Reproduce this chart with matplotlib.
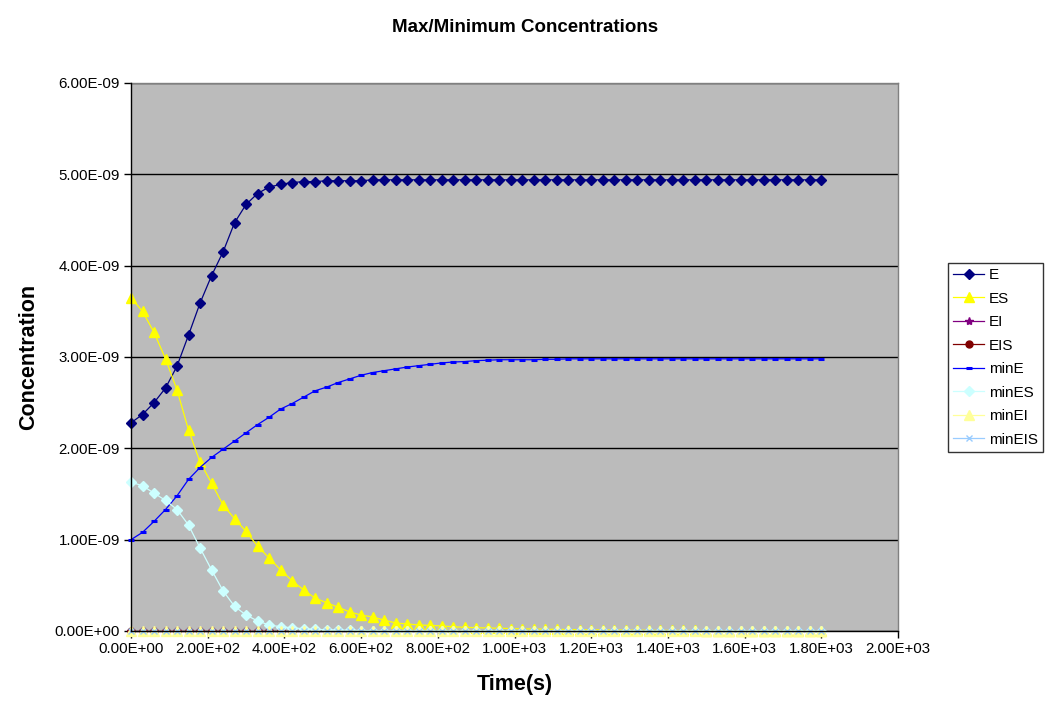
import matplotlib
matplotlib.use("Agg")
import matplotlib.pyplot as plt
from matplotlib.ticker import FuncFormatter

plt.rcParams["font.family"] = ["Liberation Sans", "DejaVu Sans"]

# time points, seconds (every 30 s up to 1800 s)
time_s = list(range(0, 1801, 30))

# axis ticks
x_ticks = [0, 200, 400, 600, 800, 1000, 1200, 1400, 1600, 1800, 2000]
y_ticks = [0, 1e-9, 2e-9, 3e-9, 4e-9, 5e-9, 6e-9]

# concentrations, in units of 1e-9
E = [2.28, 2.37, 2.50, 2.66, 2.90, 3.24, 3.59, 3.89, 4.15, 4.47,
     4.67, 4.79, 4.86, 4.89, 4.91, 4.92, 4.92, 4.93, 4.93, 4.93,
     4.93, 4.94, 4.94, 4.94, 4.94, 4.94, 4.94, 4.94, 4.94, 4.94,
     4.94, 4.94, 4.94, 4.94, 4.94, 4.94, 4.94, 4.94, 4.94, 4.94,
     4.94, 4.94, 4.94, 4.94, 4.94, 4.94, 4.94, 4.94, 4.94, 4.94,
     4.94, 4.94, 4.94, 4.94, 4.94, 4.94, 4.94, 4.94, 4.94, 4.94,
     4.94]
ES = [3.65, 3.50, 3.27, 2.98, 2.64, 2.20, 1.85, 1.62, 1.38, 1.23,
      1.09, 0.93, 0.80, 0.67, 0.55, 0.45, 0.36, 0.31, 0.26, 0.21,
      0.175, 0.153, 0.12, 0.088, 0.077, 0.066, 0.062, 0.055, 0.047, 0.040,
      0.036, 0.033, 0.030, 0.027, 0.024, 0.022, 0.020, 0.018, 0.016, 0.015,
      0.013, 0.012, 0.011, 0.010, 0.009, 0.008, 0.007, 0.007, 0.006, 0.006,
      0.005, 0.005, 0.004, 0.004, 0.004, 0.003, 0.003, 0.003, 0.003, 0.002,
      0.002]
EI = [0.0] * 61
EIS = [0.0] * 61
minE = [1.00, 1.08, 1.20, 1.33, 1.48, 1.66, 1.79, 1.90, 1.99, 2.08,
        2.17, 2.26, 2.34, 2.43, 2.49, 2.56, 2.63, 2.67, 2.72, 2.76,
        2.80, 2.83, 2.85, 2.87, 2.89, 2.905, 2.92, 2.935, 2.945, 2.95,
        2.96, 2.965, 2.97, 2.97, 2.97, 2.97, 2.975, 2.975, 2.98, 2.98,
        2.98, 2.98, 2.98, 2.98, 2.98, 2.98, 2.98, 2.98, 2.98, 2.98,
        2.98, 2.98, 2.98, 2.98, 2.98, 2.98, 2.98, 2.98, 2.98, 2.98,
        2.98]
minES = [1.63, 1.59, 1.51, 1.43, 1.33, 1.16, 0.91, 0.67, 0.44, 0.27,
         0.175, 0.11, 0.066, 0.047, 0.035, 0.025, 0.018, 0.013, 0.010, 0.007,
         0.005, 0.004, 0.003, 0.002, 0.002, 0.001, 0.001, 0.001, 0.001, 0.001,
         0.0, 0.0, 0.0, 0.0, 0.0, 0.0, 0.0, 0.0, 0.0, 0.0,
         0.0, 0.0, 0.0, 0.0, 0.0, 0.0, 0.0, 0.0, 0.0, 0.0,
         0.0, 0.0, 0.0, 0.0, 0.0, 0.0, 0.0, 0.0, 0.0, 0.0,
         0.0]
minEI = [0.0] * 61
minEIS = [0.0] * 61

series = [
    ("E", E, "#000080", "D", 5.5, {}),
    ("ES", ES, "#FFFF00", "^", 7, {}),
    ("EI", EI, "#800080", "*", 6, {}),
    ("EIS", EIS, "#800000", "o", 5, {}),
    ("minE", minE, "#0000FF", "_", 5, {"markeredgewidth": 2.2}),
    ("minES", minES, "#CCFFFF", "D", 5.5, {}),
    ("minEI", minEI, "#FFFF99", "^", 7, {}),
    ("minEIS", minEIS, "#99CCFF", "x", 5, {"markeredgewidth": 1.0}),
]

fig = plt.figure(figsize=(10.58, 7.06), dpi=100)
fig.patch.set_facecolor("white")
ax = fig.add_axes([131 / 1058, 1 - 631 / 706, 767 / 1058, 548 / 706])
ax.set_facecolor("#BBBBBB")

for name, vals, color, marker, ms, extra in series:
    ax.plot(time_s, [v * 1e-9 for v in vals], color=color, linewidth=0.9,
            marker=marker, markersize=ms, markerfacecolor=color,
            markeredgecolor=color, label=name, clip_on=False, zorder=3,
            **extra)

ax.set_xlim(0, 2000)
ax.set_ylim(0, 6e-9)
ax.set_xticks(x_ticks)
ax.set_yticks(y_ticks)
ax.xaxis.set_major_formatter(FuncFormatter(lambda v, p: f"{v:.2E}"))
ax.yaxis.set_major_formatter(FuncFormatter(lambda v, p: f"{v:.2E}"))
ax.tick_params(direction="out", length=5, width=1, color="black",
               labelsize=10.8, pad=3)
ax.grid(axis="y", color="black", linewidth=1)
ax.set_axisbelow(True)

for side in ("top", "right"):
    ax.spines[side].set_color("#808080")
    ax.spines[side].set_linewidth(1)
for side in ("left", "bottom"):
    ax.spines[side].set_color("black")
    ax.spines[side].set_linewidth(1)
    ax.spines[side].set_zorder(4)

ax.set_xlabel("Time(s)", fontsize=15.5, fontweight="bold", labelpad=13)
ax.set_ylabel("Concentration", fontsize=15.5, fontweight="bold", labelpad=11)
fig.text(525 / 1058, 1 - 27 / 706, "Max/Minimum Concentrations",
         ha="center", va="center", fontsize=13.5, fontweight="bold")

leg = ax.legend(loc="upper left", bbox_to_anchor=(948 / 1058, 1 - 263 / 706),
                bbox_transform=fig.transFigure, borderaxespad=0, fontsize=11,
                frameon=True, fancybox=False, labelspacing=0.62,
                handlelength=2.0, handletextpad=0.33, borderpad=0.35)
leg.get_frame().set_edgecolor("black")
leg.get_frame().set_linewidth(1)

fig.savefig("out.png", dpi=100, facecolor="white")
